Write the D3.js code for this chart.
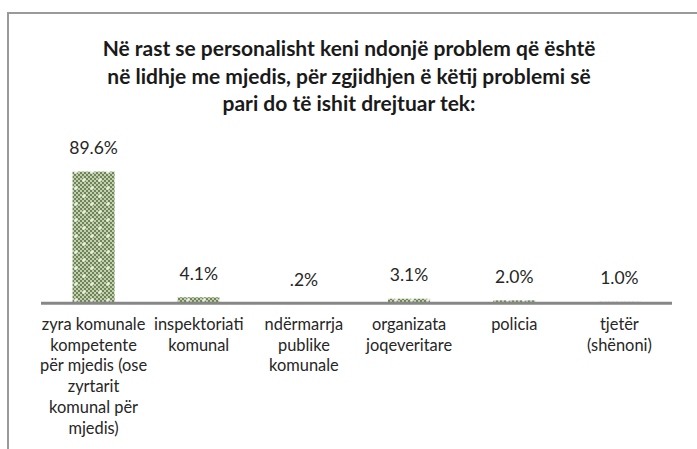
<!DOCTYPE html>
<html lang="sq">
<head>
    <meta charset="UTF-8">
    <title>Problemi me mjedisin</title>
    <style>
        html, body {
            margin: 0;
            padding: 0;
            background: #ffffff;
        }
        svg {
            display: block;
            font-family: Lato, "Open Sans", sans-serif;
        }
        .title {
            font-weight: bold;
            font-size: 21px;
            fill: #1a1a1a;
        }
        .value-label {
            font-size: 17.5px;
            fill: #262626;
        }
        .cat-label {
            font-size: 16.4px;
            fill: #262626;
        }
    </style>
</head>
<body>
    <svg id="chart"></svg>

    <script src="https://d3js.org/d3.v7.min.js"></script>
    <script>
        const titleLines = [
            'Në rast se personalisht keni ndonjë problem që është',
            'në lidhje me mjedis, për zgjidhjen ë këtij problemi së',
            'pari do të ishit drejtuar tek:'
        ];

        const categories = [
            'zyra komunale\nkompetente\npër mjedis (ose\nzyrtarit\nkomunal për\nmjedis)',
            'inspektoriati\nkomunal',
            'ndërmarrja\npublike\nkomunale',
            'organizata\njoqeveritare',
            'policia',
            'tjetër\n(shënoni)'
        ];

        const values = [89.6, 4.1, 0.2, 3.1, 2.0, 1.0];

        const width = 697;
        const height = 449;
        const plot = { left: 41, right: 672, top: 156.3, bottom: 303.3 };

        const svg = d3.select('#chart').attr('width', width).attr('height', height);

        // bar fill pattern (green checker with white crosses)
        const defs = svg.append('defs');
        const pat = defs.append('pattern')
            .attr('id', 'dots')
            .attr('patternUnits', 'userSpaceOnUse')
            .attr('width', 16)
            .attr('height', 16);
        pat.append('rect').attr('width', 16).attr('height', 16).attr('fill', '#c3ceb2');
        for (let i = 0; i < 8; i++) {
            for (let j = 0; j < 8; j++) {
                if ((i + j) % 2 === 0) {
                    pat.append('rect')
                        .attr('x', i * 2).attr('y', j * 2)
                        .attr('width', 2).attr('height', 2)
                        .attr('fill', '#6c8654');
                }
            }
        }
        [[4, 4], [12, 12]].forEach(([cx, cy]) => {
            pat.append('rect').attr('x', cx - 2).attr('y', cy - 0.5).attr('width', 4).attr('height', 1).attr('fill', '#ffffff');
            pat.append('rect').attr('x', cx - 0.5).attr('y', cy - 2).attr('width', 1).attr('height', 4).attr('fill', '#ffffff');
        });

        // chart frame
        svg.append('path')
            .attr('d', `M${width},13 L8,13 L8,${height}`)
            .attr('fill', 'none')
            .attr('stroke', '#9a9a9a')
            .attr('stroke-width', 2);

        svg.append('g')
            .selectAll('text')
            .data(titleLines)
            .enter().append('text')
            .attr('class', 'title')
            .attr('x', 349)
            .attr('y', (d, i) => 56 + i * 27.5)
            .attr('text-anchor', 'middle')
            .text(d => d);

        const x = d3.scaleBand()
            .domain(categories)
            .range([plot.left, plot.right])
            .paddingInner(0.6)
            .paddingOuter(0.3);

        const y = d3.scaleLinear()
            .domain([0, 100])
            .range([plot.bottom, plot.top]);

        const fmt = v => d3.format('.1f')(v).replace(/^0\./, '.') + '%';

        const data = categories.map((c, i) => ({ cat: c, value: values[i] }));

        svg.append('g')
            .selectAll('rect')
            .data(data)
            .enter().append('rect')
            .attr('x', d => x(d.cat))
            .attr('y', d => y(d.value))
            .attr('width', x.bandwidth())
            .attr('height', d => y(0) - y(d.value))
            .attr('fill', 'url(#dots)');

        svg.append('g')
            .selectAll('text')
            .data(data)
            .enter().append('text')
            .attr('class', 'value-label')
            .attr('x', d => x(d.cat) + x.bandwidth() / 2)
            .attr('y', d => y(d.value) - 17.5)
            .attr('text-anchor', 'middle')
            .text(d => fmt(d.value));

        // category axis
        svg.append('line')
            .attr('x1', plot.left)
            .attr('x2', plot.right)
            .attr('y1', y(0))
            .attr('y2', y(0))
            .attr('stroke', '#878787')
            .attr('stroke-width', 3);

        const labels = svg.append('g')
            .selectAll('text')
            .data(categories)
            .enter().append('text')
            .attr('class', 'cat-label')
            .attr('text-anchor', 'middle')
            .attr('x', d => x(d) + x.bandwidth() / 2)
            .attr('y', 330);

        labels.selectAll('tspan')
            .data(d => d.split('\n'))
            .enter().append('tspan')
            .attr('x', function () { return this.parentNode.getAttribute('x'); })
            .attr('dy', (d, i) => i === 0 ? 0 : 20.7)
            .text(d => d);
    </script>
</body>
</html>
